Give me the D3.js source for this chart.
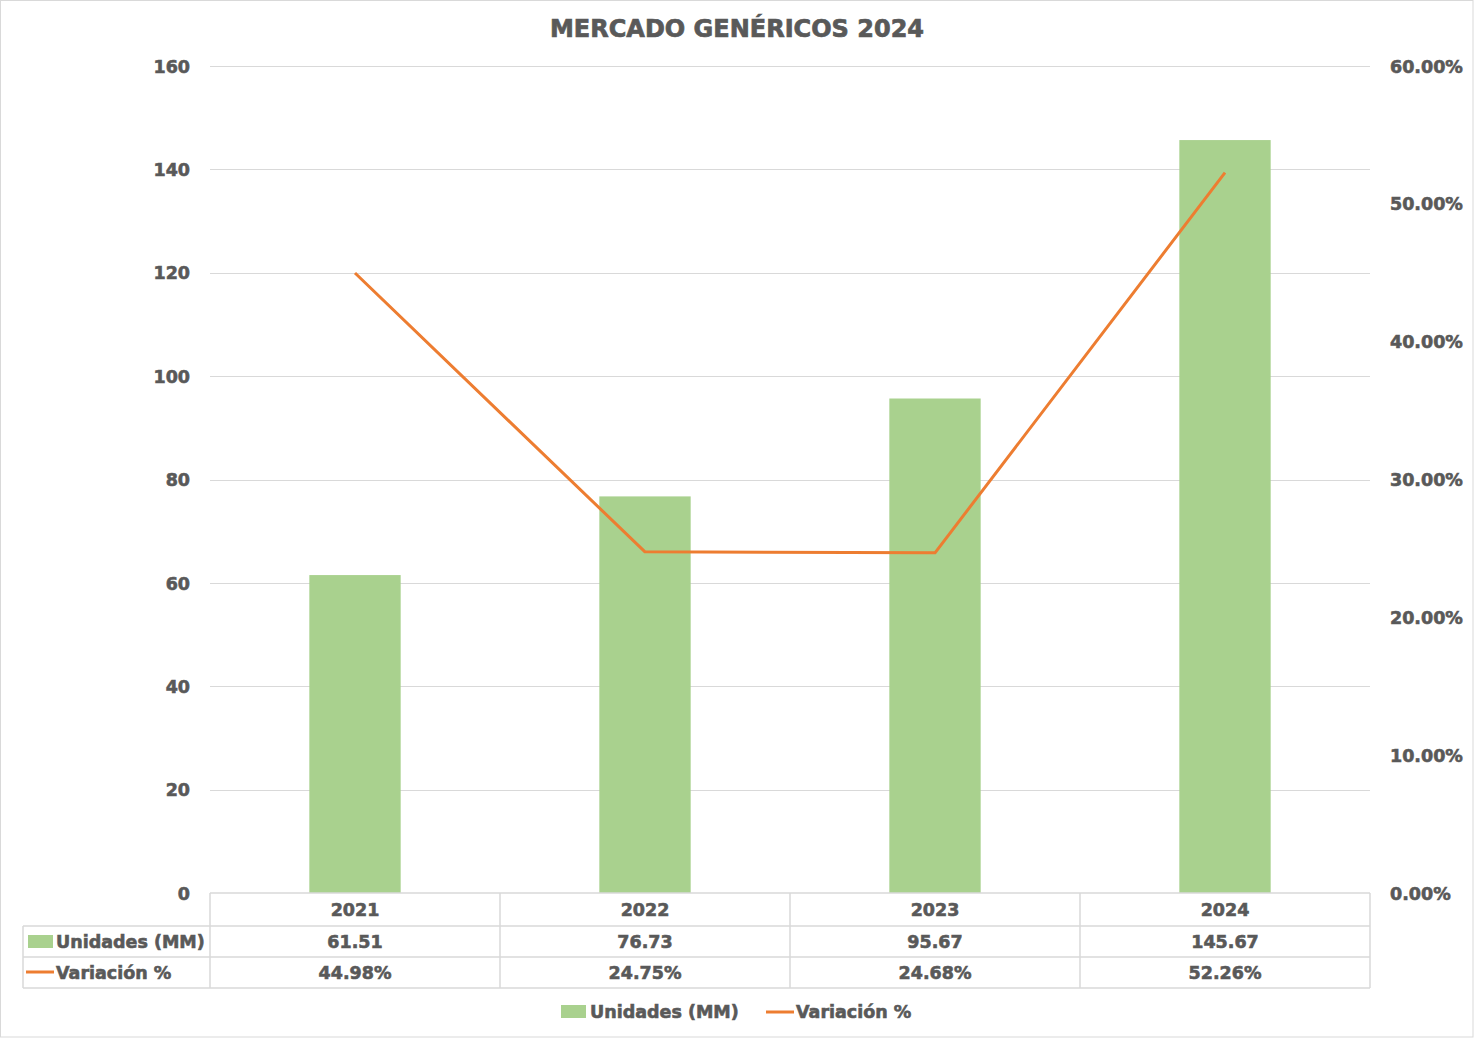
<!DOCTYPE html>
<html><head><meta charset="utf-8">
<script src="https://cdn.jsdelivr.net/npm/d3@7"></script>
<style>
html,body{margin:0;padding:0;background:#fff;}
text{font-family:"DejaVu Sans","Liberation Sans",Arial,sans-serif;font-weight:bold;fill:#595959;stroke:#595959;stroke-width:0.6px;}
</style></head><body>
<script>
const categories = ["2021","2022","2023","2024"];
const unidades = [61.51, 76.73, 95.67, 145.67];
const variacion = [0.4498, 0.2475, 0.2468, 0.5226];
const unidadesLabels = ["61.51","76.73","95.67","145.67"];
const variacionLabels = ["44.98%","24.75%","24.68%","52.26%"];
const leftTicks = [0,20,40,60,80,100,120,140,160];
const rightTicks = [0,0.1,0.2,0.3,0.4,0.5,0.6];
const seriesNames = ["Unidades (MM)","Variación %"];
const title = "MERCADO GENÉRICOS 2024";

const W=1474,H=1038;
const colBar="#A9D18E", colLine="#ED7D31", grid="#D9D9D9";
const fs="17.5px";
const svg=d3.select("body").append("svg").attr("width",W).attr("height",H);
svg.append("rect").attr("x",0.5).attr("y",0.5).attr("width",W-1.5).attr("height",H-1.5).attr("fill","#fff").attr("stroke","#D9D9D9");

const x0=210,x1=1370,yTop=66,yBot=893;
const x=d3.scaleBand().domain(categories).range([x0,x1]).paddingInner(0).paddingOuter(0);
const y=d3.scaleLinear().domain([0,160]).range([yBot,yTop]);
const y2=d3.scaleLinear().domain([0,0.6]).range([yBot,yTop]);

svg.append("text").attr("x",737).attr("y",37).attr("text-anchor","middle").style("font-size","24px").style("stroke-width","0.7px").text(title);

// gridlines
svg.append("g").selectAll("line").data(leftTicks.filter(d=>d>0)).join("line")
 .attr("x1",x0).attr("x2",x1).attr("y1",d=>Math.round(y(d))+0.5).attr("y2",d=>Math.round(y(d))+0.5)
 .attr("stroke",grid).attr("stroke-width",1);

// left axis
const la=svg.append("g").attr("transform",`translate(${x0-20},0)`).call(d3.axisLeft(y).tickValues(leftTicks).tickSize(0).tickPadding(0).tickFormat(d3.format("d")));
la.select(".domain").remove();
la.selectAll("text").style("font-size",fs).attr("dy","0.35em");
// right axis
const ra=svg.append("g").attr("transform",`translate(${x1+20},0)`).call(d3.axisRight(y2).tickValues(rightTicks).tickSize(0).tickPadding(0).tickFormat(d3.format(".2%")));
ra.select(".domain").remove();
ra.selectAll("text").style("font-size",fs).attr("dy","0.35em");

// bars
const bw=x.bandwidth()*0.315;
svg.append("g").selectAll("rect").data(categories).join("rect")
 .attr("x",(d)=>x(d)+x.bandwidth()/2-bw/2).attr("width",bw)
 .attr("y",(d,i)=>y(unidades[i])).attr("height",(d,i)=>yBot-y(unidades[i]))
 .attr("fill",colBar);

// line
const line=d3.line().x((d,i)=>x(categories[i])+x.bandwidth()/2).y(d=>y2(d));
svg.append("path").datum(variacion).attr("d",line).attr("fill","none").attr("stroke",colLine).attr("stroke-width",3).attr("stroke-linejoin","round");

// data table
const rowY=[893,926,957,988];
const tL=23;
const tg=svg.append("g").attr("stroke","#D9D9D9").attr("stroke-width",1.5).attr("fill","none");
tg.append("line").attr("x1",x0).attr("x2",x1).attr("y1",rowY[0]).attr("y2",rowY[0]);
[1,2,3].forEach(k=>tg.append("line").attr("x1",tL).attr("x2",x1).attr("y1",rowY[k]).attr("y2",rowY[k]));
tg.append("line").attr("x1",tL).attr("x2",tL).attr("y1",rowY[1]).attr("y2",rowY[3]);
categories.forEach(c=>tg.append("line").attr("x1",x(c)).attr("x2",x(c)).attr("y1",rowY[0]).attr("y2",rowY[3]));
tg.append("line").attr("x1",x1).attr("x2",x1).attr("y1",rowY[0]).attr("y2",rowY[3]);

const tt=svg.append("g");
categories.forEach((c,i)=>{
  const cx=x(c)+x.bandwidth()/2;
  tt.append("text").attr("x",cx).attr("y",(rowY[0]+rowY[1])/2).attr("dy","0.35em").attr("text-anchor","middle").style("font-size",fs).text(c);
  tt.append("text").attr("x",cx).attr("y",(rowY[1]+rowY[2])/2).attr("dy","0.35em").attr("text-anchor","middle").style("font-size",fs).text(unidadesLabels[i]);
  tt.append("text").attr("x",cx).attr("y",(rowY[2]+rowY[3])/2).attr("dy","0.35em").attr("text-anchor","middle").style("font-size",fs).text(variacionLabels[i]);
});
tt.append("rect").attr("x",28).attr("y",935).attr("width",25).attr("height",13).attr("fill",colBar);
tt.append("text").attr("x",56).attr("y",(rowY[1]+rowY[2])/2).attr("dy","0.35em").style("font-size",fs).text(seriesNames[0]);
tt.append("line").attr("x1",26).attr("x2",54).attr("y1",972).attr("y2",972).attr("stroke",colLine).attr("stroke-width",3);
tt.append("text").attr("x",56).attr("y",(rowY[2]+rowY[3])/2).attr("dy","0.35em").style("font-size",fs).text(seriesNames[1]);

// legend
const lg=svg.append("g");
lg.append("rect").attr("x",561).attr("y",1005).attr("width",25).attr("height",13).attr("fill",colBar);
lg.append("text").attr("x",590).attr("y",1012).attr("dy","0.35em").style("font-size",fs).text(seriesNames[0]);
lg.append("line").attr("x1",766).attr("x2",794).attr("y1",1012).attr("y2",1012).attr("stroke",colLine).attr("stroke-width",3);
lg.append("text").attr("x",796).attr("y",1012).attr("dy","0.35em").style("font-size",fs).text(seriesNames[1]);
</script>
</body></html>
